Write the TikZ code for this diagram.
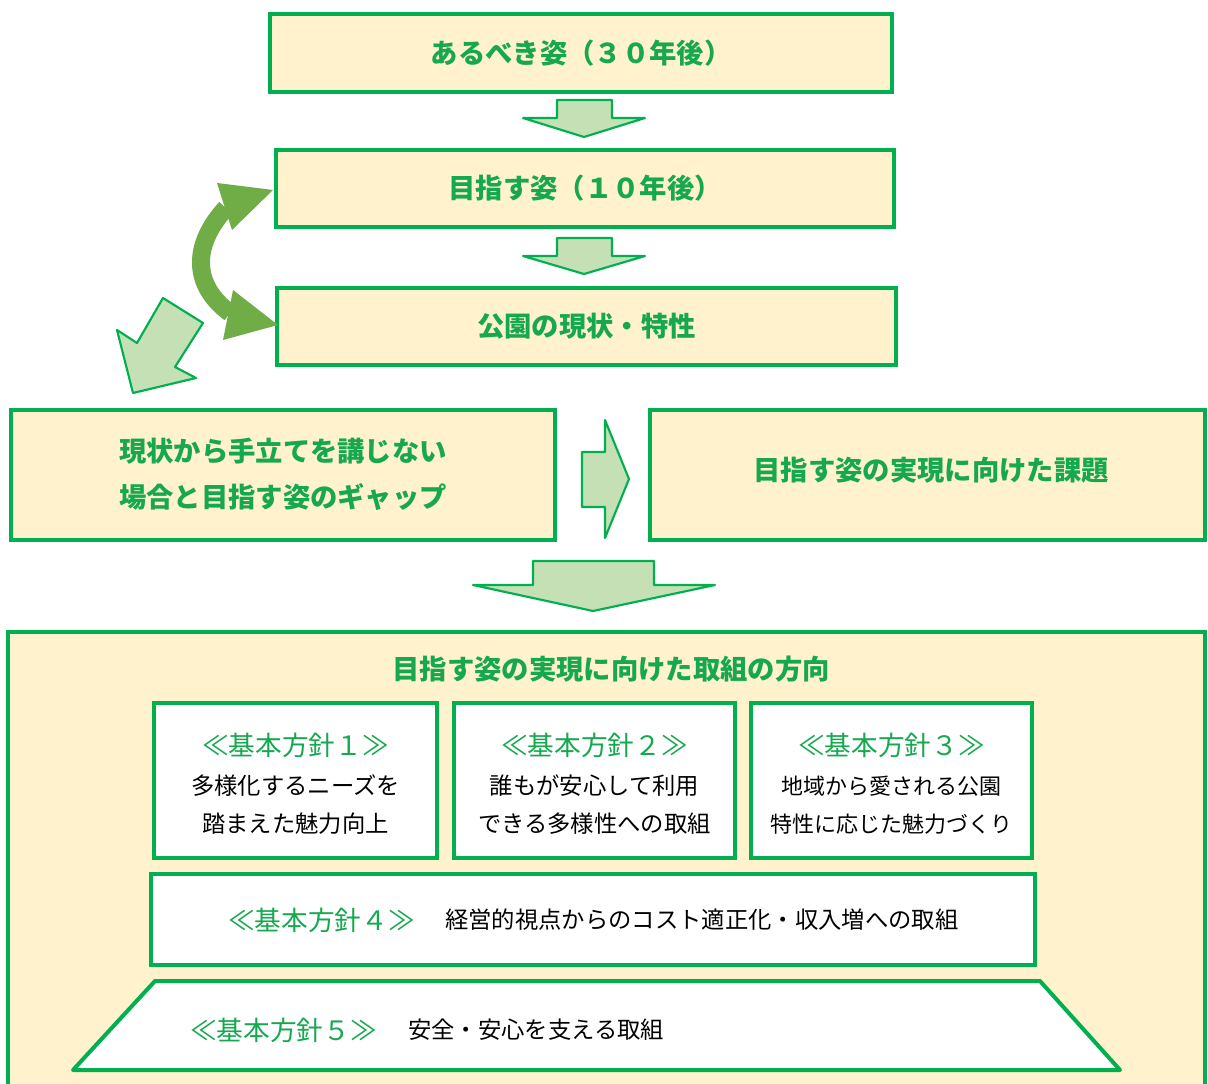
\documentclass[tikz,border=0pt]{standalone}
\usepackage{fontspec}
\setmainfont{Noto Sans CJK JP}
\usetikzlibrary{fit}
\definecolor{gline}{HTML}{00B050}
\definecolor{cream}{HTML}{FFF2CC}
\definecolor{lgreen}{HTML}{C5E0B4}
\definecolor{agreen}{HTML}{70AD47}
\definecolor{gtext}{HTML}{16A84F}
\begin{document}
\begin{tikzpicture}[x=0.75pt,y=-0.75pt,
  box/.style={draw=gline, line width=3pt, fill=cream, inner sep=0pt},
  wbox/.style={draw=gline, line width=3pt, fill=white, inner sep=0pt},
  blk/.style={draw=gline, line width=1.6pt, fill=lgreen, line join=round},
  head/.style={font=\fontsize{20.5}{24}\selectfont\bfseries, text=gtext, inner sep=0pt},
  ptitle/.style={font=\fontsize{20}{24}\selectfont, text=gtext, inner sep=0pt},
  body/.style={font=\fontsize{17.5}{21}\selectfont, text=black, inner sep=0pt}]
\useasboundingbox (0,0) rectangle (1208,1084);
\clip (0,0) rectangle (1208,1084);
\fill[white] (0,0) rectangle (1208,1084);

% top boxes
\node[box, fit={(270,14) (892,92)}] (b1) {};
\node[head] (t1) at (b1.center) {あるべき姿（３０年後）};
\node[box, fit={(276,150) (894,227)}] (b2) {};
\node[head] (t2) at (b2.center) {目指す姿（１０年後）};
\node[box, fit={(277,288) (896,365)}] (b3) {};
\node[head] (t3) at (b3.center) {公園の現状・特性};

% down arrows
\draw[blk] (557,100) -- (612,100) -- (612,118) -- (645,118) -- (584,137) -- (523,118) -- (557,118) -- cycle;
\draw[blk] (557,238) -- (612,238) -- (612,256) -- (645,256) -- (584,274) -- (523,256) -- (557,256) -- cycle;

% curved double arrow
\draw[agreen, line width=13.5pt] (226,208) .. controls (192,245) and (192,285) .. (230,313);
\fill[agreen] (273,190) -- (217,183) -- (232,230) -- cycle;
\fill[agreen] (278,325) -- (233,290) -- (223,340) -- cycle;

% diagonal arrow
\draw[blk] (163,298) -- (203,323) -- (175,367) -- (196,378) -- (133,393) -- (117,330) -- (137,343) -- cycle;

% middle boxes
\node[box, fit={(11,410) (555,540)}] (b4) {};
\node[head] (t4a) at (283,451) {現状から手立てを講じない};
\node[head] (t4b) at (283,497) {場合と目指す姿のギャップ};
\node[box, fit={(650,410) (1205,540)}] (b5) {};
\node[head] (t5) at (931,470) {目指す姿の実現に向けた課題};

% right arrow
\draw[blk] (582,452) -- (605,452) -- (605,420) -- (629,479) -- (605,538) -- (605,507) -- (582,507) -- cycle;

% big down arrow
\draw[blk] (533,561) -- (654,561) -- (654,585) -- (715,585) -- (593,611) -- (473,585) -- (533,585) -- cycle;

% big box
\node[box, fit={(8,632) (1205,1100)}] (big) {};
\node[head] (tb) at (611,669) {目指す姿の実現に向けた取組の方向};

% policy boxes
\node[wbox, fit={(154,703) (437,858)}] (p1) {};
\node[ptitle] (p1t) at (295.5,745) {≪基本方針１≫};
\node[body] (p1a) at (295.5,786) {多様化するニーズを};
\node[body] (p1b) at (295.5,824) {踏まえた魅力向上};

\node[wbox, fit={(454,703) (735,858)}] (p2) {};
\node[ptitle] (p2t) at (594.5,745) {≪基本方針２≫};
\node[body] (p2a) at (594.5,786) {誰もが安心して利用};
\node[body] (p2b) at (594.5,824) {できる多様性への取組};

\node[wbox, fit={(751,703) (1032,858)}] (p3) {};
\node[ptitle] (p3t) at (891.5,745) {≪基本方針３≫};
\node[body, font=\fontsize{16.5}{20}\selectfont] (p3a) at (891.5,786) {地域から愛される公園};
\node[body, font=\fontsize{16.5}{20}\selectfont] (p3b) at (891.5,824) {特性に応じた魅力づくり};

\node[wbox, fit={(151,874) (1035,965)}] (p4) {};
\node[ptitle, anchor=west] (p4t) at (228,920) {≪基本方針４≫};
\node[body, anchor=west] (p4a) at (445,920) {経営的視点からのコスト適正化・収入増への取組};

\draw[draw=gline, line width=3pt, fill=white, line join=round] (155,981) -- (1040,981) -- (1120,1070) -- (73,1070) -- cycle;
\node[ptitle, anchor=west] (p5t) at (190,1030) {≪基本方針５≫};
\node[body, anchor=west] (p5a) at (408,1030) {安全・安心を支える取組};
\end{tikzpicture}
\end{document}
